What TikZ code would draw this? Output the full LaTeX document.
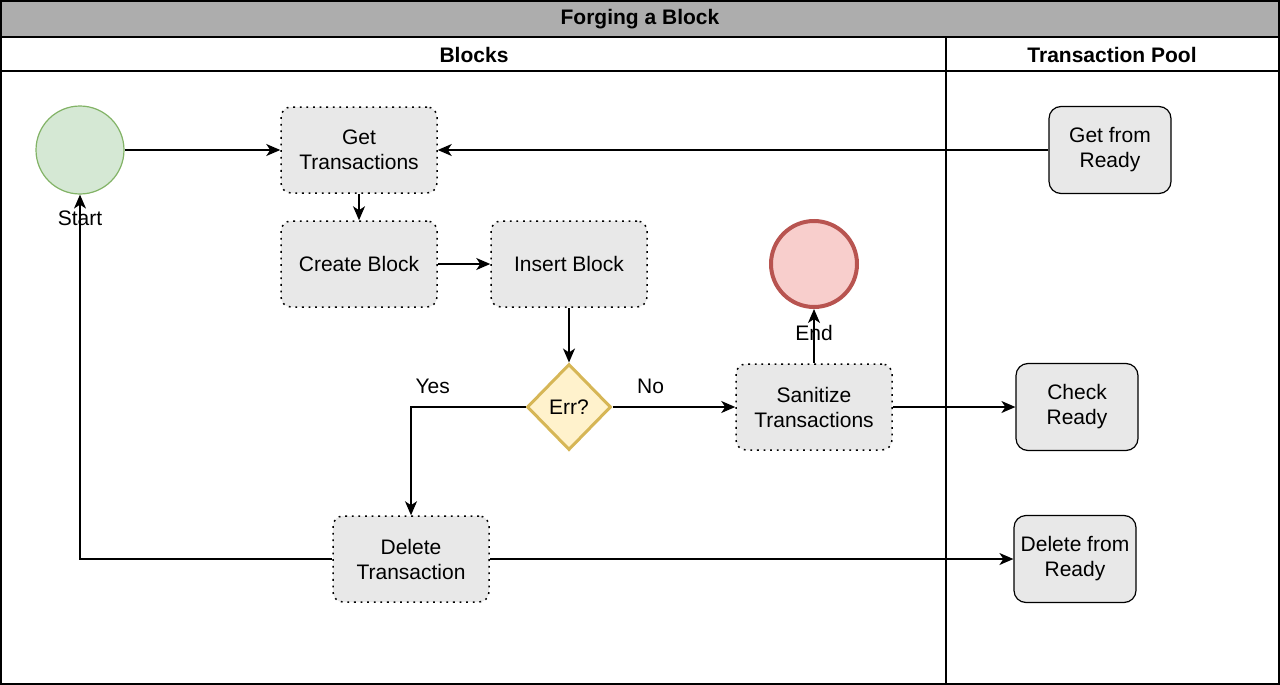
\documentclass[tikz,border=0pt]{standalone}
\usepackage{fontspec}
\setmainfont{Liberation Sans}
\usetikzlibrary{arrows.meta, positioning, shapes.geometric}
\definecolor{titlegrey}{HTML}{ADADAD}
\definecolor{boxgrey}{HTML}{E8E8E8}
\definecolor{startfill}{HTML}{D5E8D4}
\definecolor{startline}{HTML}{82B366}
\definecolor{endfill}{HTML}{F8CECC}
\definecolor{endline}{HTML}{B85450}
\definecolor{gwfill}{HTML}{FFF2CC}
\definecolor{gwline}{HTML}{D6B656}
\tikzset{
    lanes/.style={>={Stealth[length=7pt, width=6pt, inset=2pt]}, line width=0.75pt, font=\fontsize{10.5}{12.5}\selectfont, x=0.5pt, y=-0.5pt},
    lane/.style={draw, line width=0.75pt},
    lanetitle/.style={font=\fontsize{10.5}{12.5}\selectfont\bfseries},
    task/.style={draw, rounded corners=5pt, fill=boxgrey, minimum width=78pt, minimum height=43pt, align=center, dash pattern=on 0.9pt off 2.4pt},
    pooltask/.style={draw, rounded corners=6pt, fill=boxgrey, minimum width=61pt, minimum height=43.5pt, align=center, line width=0.6pt},
    startevent/.style={circle, draw=startline, fill=startfill, minimum size=44pt, inner sep=0pt, line width=0.6pt},
    endevent/.style={circle, draw=endline, fill=endfill, minimum size=43pt, inner sep=0pt, line width=2pt},
    % decision point between the two outcomes
    gateway/.style={diamond, draw=gwline, fill=gwfill, line width=1.5pt, minimum width=42pt, minimum height=43pt, inner sep=0pt},
}
\begin{document}
\begin{tikzpicture}[lanes]
    \useasboundingbox (0,0) rectangle (1280,685);
    % swimlanes
    \draw[lane, fill=titlegrey] (1,1) rectangle (1279,37);
    \draw[lane] (1,37) rectangle (1279,684);
    \draw[lane] (1,71) -- (1279,71);
    \draw[lane] (946,37) -- (946,684);
    \node[lanetitle] (title) at (640,19) {Forging a Block};
    \node[lanetitle] (blocks) at (474,55) {Blocks};
    \node[lanetitle] (pool) at (1112,55) {Transaction Pool};

    \node[startevent]   (start)    at (80,150)  {};
    \node[task]         (gettx)    at (359,150) {Get\\Transactions};
    \node[task]         (create)   at (359,264) {Create Block};
    \node[task]         (insert)   at (569,264) {Insert Block};
    \node[gateway]      (err)      at (569,407) {Err?};
    \node[task]         (sanitize) at (814,407) {Sanitize\\Transactions};
    \node[endevent]     (end)      at (814,264) {};
    \node[task]         (deltx)    at (411,559) {Delete\\Transaction};
    \node[pooltask]     (getready) at (1110,150) {Get from\\Ready};
    \node[pooltask]     (check)    at (1077,407) {Check\\Ready};
    \node[pooltask]     (delready) at (1075,559) {Delete from\\Ready};

    \draw[->] (start) -- (gettx);
    \draw[->] (getready) -- (gettx);
    \draw[->] (gettx) -- (create);
    \draw[->] (create) -- (insert);
    \draw[->] (insert) -- (err);
    \draw[->] (err) -- node[above=3pt, pos=0.31] {No} (sanitize);
    \draw[->] (err) -| node[above=3pt, pos=0.405] {Yes} (deltx);
    \draw[->] (sanitize) -- node[pos=0.56] {End} (end);
    \draw[->] (sanitize) -- (check);
    \draw[->] (deltx) -- (delready);
    \draw[->] (deltx) -| node[pos=0.967] {Start} (start);
\end{tikzpicture}
\end{document}
